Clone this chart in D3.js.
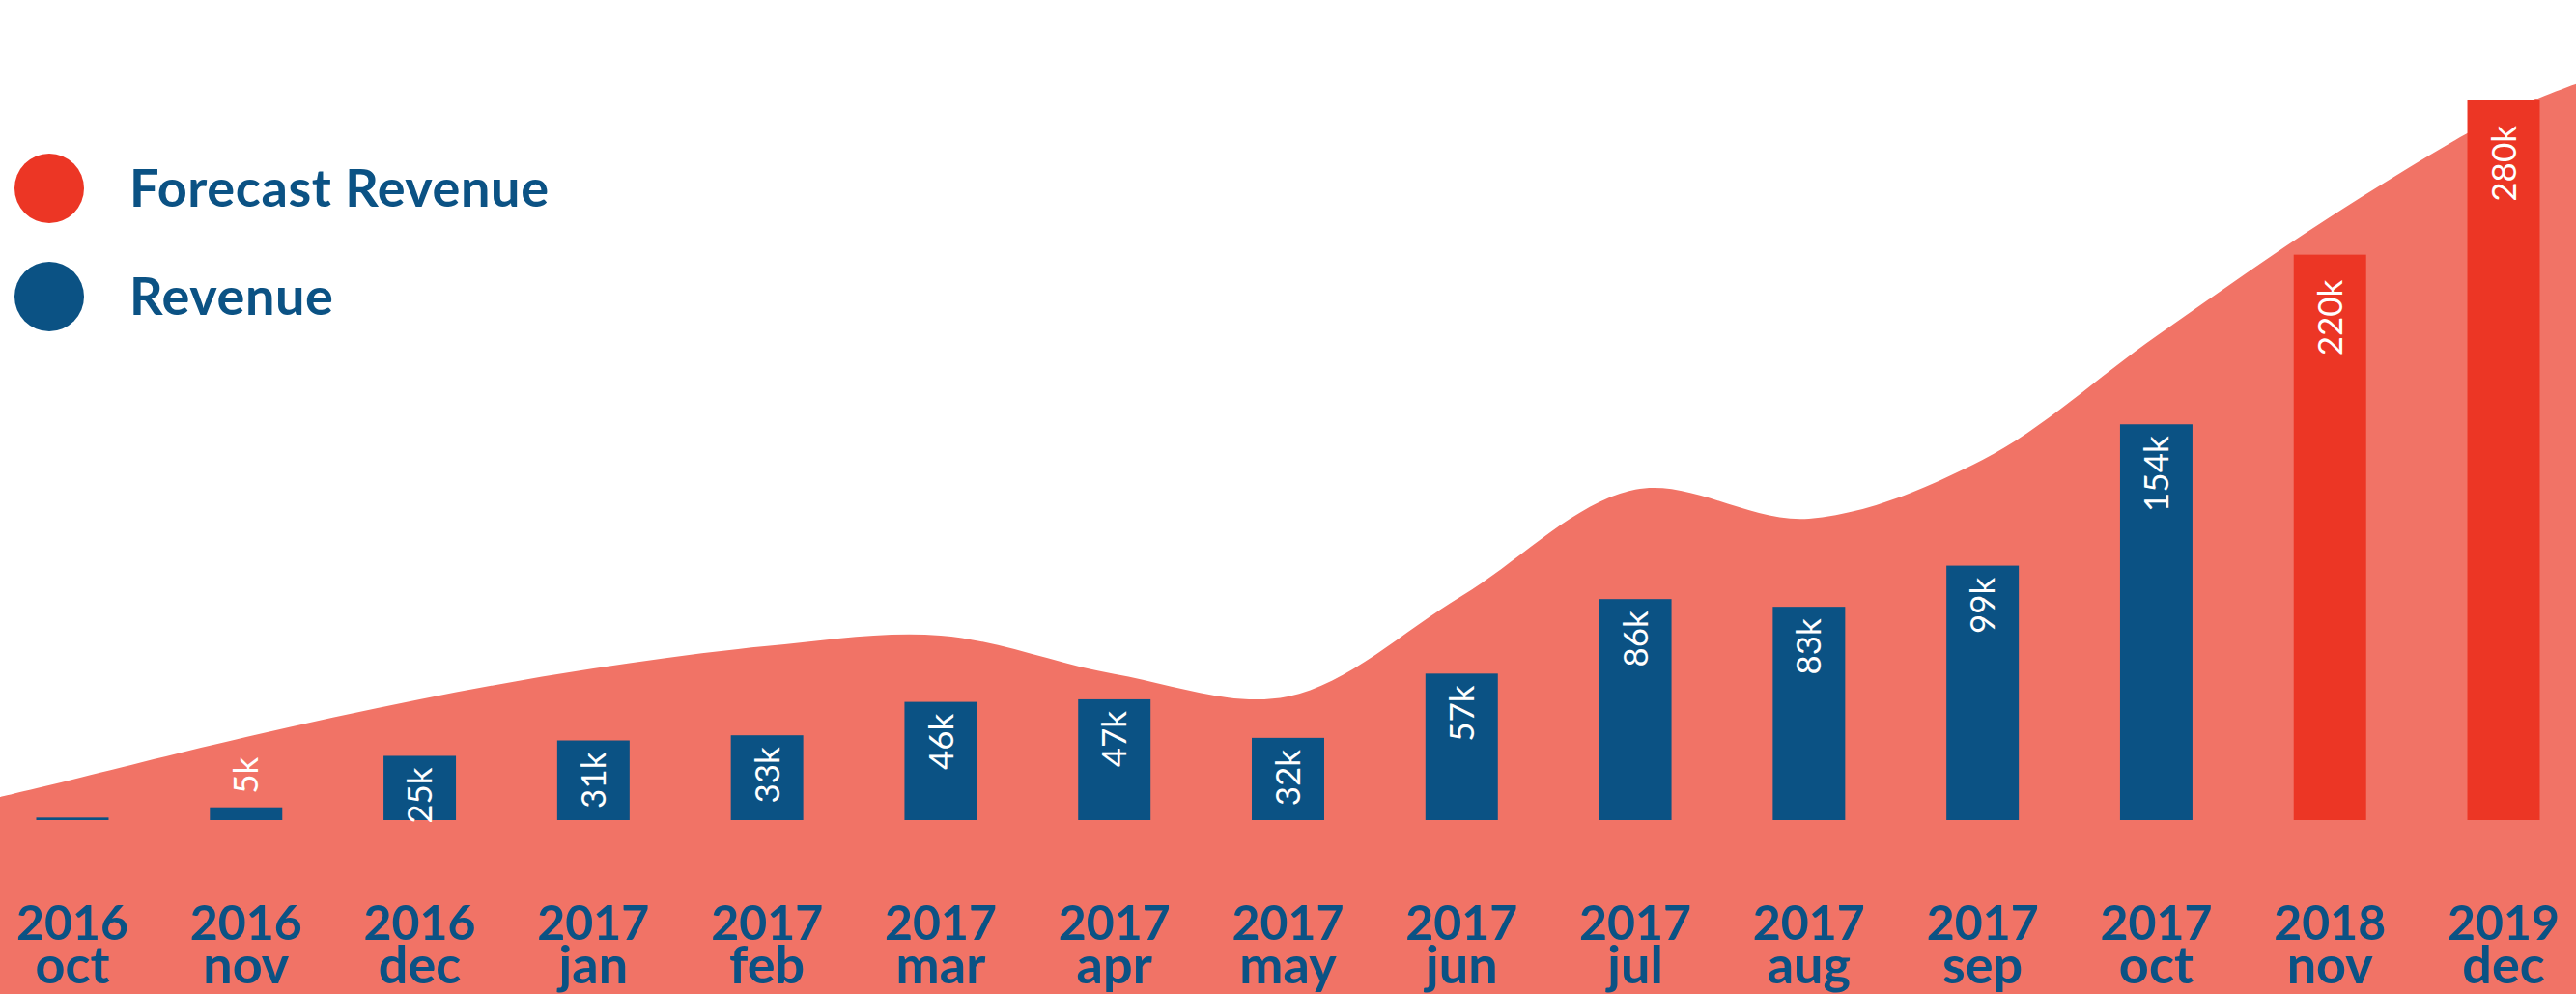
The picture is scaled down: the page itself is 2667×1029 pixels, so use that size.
<!DOCTYPE html>
<html>
<head>
<meta charset="utf-8">
<script src="https://cdn.jsdelivr.net/npm/d3@7"></script>
<style>
    body { margin: 0; background: #fff; }
    svg { display: block; }
</style>
</head>
<body>
<script>
window.document.addEventListener('DOMContentLoaded', init, false);

var svg;
var width = 2667;
var height = 1029;
var baseline = 849;

// categories (year on first line, month on second)
var years = ['2016', '2016', '2016', '2017', '2017', '2017', '2017', '2017',
             '2017', '2017', '2017', '2017', '2017', '2018', '2019'];
var months = ['oct', 'nov', 'dec', 'jan', 'feb', 'mar', 'apr', 'may',
              'jun', 'jul', 'aug', 'sep', 'oct', 'nov', 'dec'];

// values in thousands
var revenue = [1, 5, 25, 31, 33, 46, 47, 32, 57, 86, 83, 99, 154, null, null];
var forecast = [null, null, null, null, null, null, null, null,
                null, null, null, null, null, 220, 280];
var valueLabels = ['', '5k', '25k', '31k', '33k', '46k', '47k', '32k',
                   '57k', '86k', '83k', '99k', '154k', '220k', '280k'];

// background trend area, one value per month plus the two chart edges
var trend = [15.8, 32.3, 47, 59, 67.7, 71.8, 56.8, 48.1,
             87.2, 128.6, 117.3, 140.2, 188.3, 234.6, 274.8];
var trendEdges = [9, 286.5];

var legendNames = ['Forecast Revenue', 'Revenue'];

var blue = '#0b5284';
var red = '#ec3625';
var salmon = '#f17366';

var x = d3.scaleBand()
    .domain(d3.range(months.length))
    .range([0, width])
    .paddingInner(0.583)
    .paddingOuter(0.2086);

var y = d3.scaleLinear()
    .domain([0, 280])
    .range([baseline, 104]);

var legendColor = d3.scaleOrdinal()
    .domain(legendNames)
    .range([red, blue]);

function init() {
    svg = createCanvas();
    drawTrendArea();
    drawBars();
    drawAxis();
    drawLegend();
}

function createCanvas() {
    return d3.select('body')
        .append('svg')
        .attr('width', width)
        .attr('height', height);
}

function center(i) {
    return x(i) + x.bandwidth() / 2;
}

function drawTrendArea() {
    var points = [{ x: 0, v: trendEdges[0] }];
    trend.forEach(function(v, i) {
        points.push({ x: center(i), v: v });
    });
    points.push({ x: width, v: trendEdges[1] });

    var area = d3.area()
        .x(function(d) { return d.x; })
        .y0(height)
        .y1(function(d) { return y(d.v); })
        .curve(d3.curveCatmullRom.alpha(0.5));

    svg.append('path')
        .datum(points)
        .attr('d', area)
        .attr('fill', salmon);
}

function drawBars() {
    var data = months.map(function(m, i) {
        var isForecast = forecast[i] !== null;
        return {
            i: i,
            value: isForecast ? forecast[i] : revenue[i],
            color: isForecast ? red : blue,
            offset: isForecast ? 26 : 12,
            label: valueLabels[i]
        };
    });

    var bars = svg.append('g').selectAll('g')
        .data(data)
        .enter()
            .append('g');

    bars.append('rect')
        .attr('x', function(d) { return x(d.i); })
        .attr('y', function(d) { return y(d.value); })
        .attr('width', x.bandwidth())
        .attr('height', function(d) { return baseline - y(d.value); })
        .attr('fill', function(d) { return d.color; });

    bars.append('text')
        .text(function(d) { return d.label; })
        .attr('transform', function(d) {
            var top = y(d.value);
            var inside = baseline - top > 60;
            var ty = inside ? top + d.offset : top - 14;
            return 'translate(' + center(d.i) + ',' + ty + ') rotate(-90)';
        })
        .attr('text-anchor', function(d) {
            return baseline - y(d.value) > 60 ? 'end' : 'start';
        })
        .attr('dy', '0.36em')
        .attr('fill', '#fff')
        .style('font-family', 'Lato, sans-serif')
        .style('font-size', '35px');
}

function drawAxis() {
    var axis = d3.axisBottom(x)
        .tickSize(0)
        .tickPadding(0)
        .tickFormat(function() { return ''; });

    var g = svg.append('g')
        .attr('transform', 'translate(0,' + 973 + ')')
        .call(axis);

    g.select('.domain').remove();

    var labels = g.selectAll('.tick text')
        .attr('y', 0)
        .attr('dy', null)
        .attr('fill', blue)
        .style('font-family', 'Lato, sans-serif')
        .style('font-weight', 700);

    labels.append('tspan')
        .attr('x', 0)
        .style('font-size', '50px')
        .text(function(d) { return years[d]; });

    labels.append('tspan')
        .attr('x', 0)
        .attr('dy', 45)
        .style('font-size', '54px')
        .text(function(d) { return months[d]; });
}

function drawLegend() {
    var items = svg.append('g').selectAll('g')
        .data(legendNames)
        .enter()
            .append('g')
            .attr('transform', function(d, i) {
                return 'translate(51,' + (195 + i * 112) + ')';
            });

    items.append('circle')
        .attr('r', 36)
        .attr('fill', function(d) { return legendColor(d); });

    items.append('text')
        .text(function(d) { return d; })
        .attr('x', 83)
        .attr('y', 19)
        .attr('fill', blue)
        .style('font-family', 'Lato, sans-serif')
        .style('font-weight', 700)
        .style('font-size', '54px')
        .style('letter-spacing', '0.6px');
}
</script>
</body>
</html>
